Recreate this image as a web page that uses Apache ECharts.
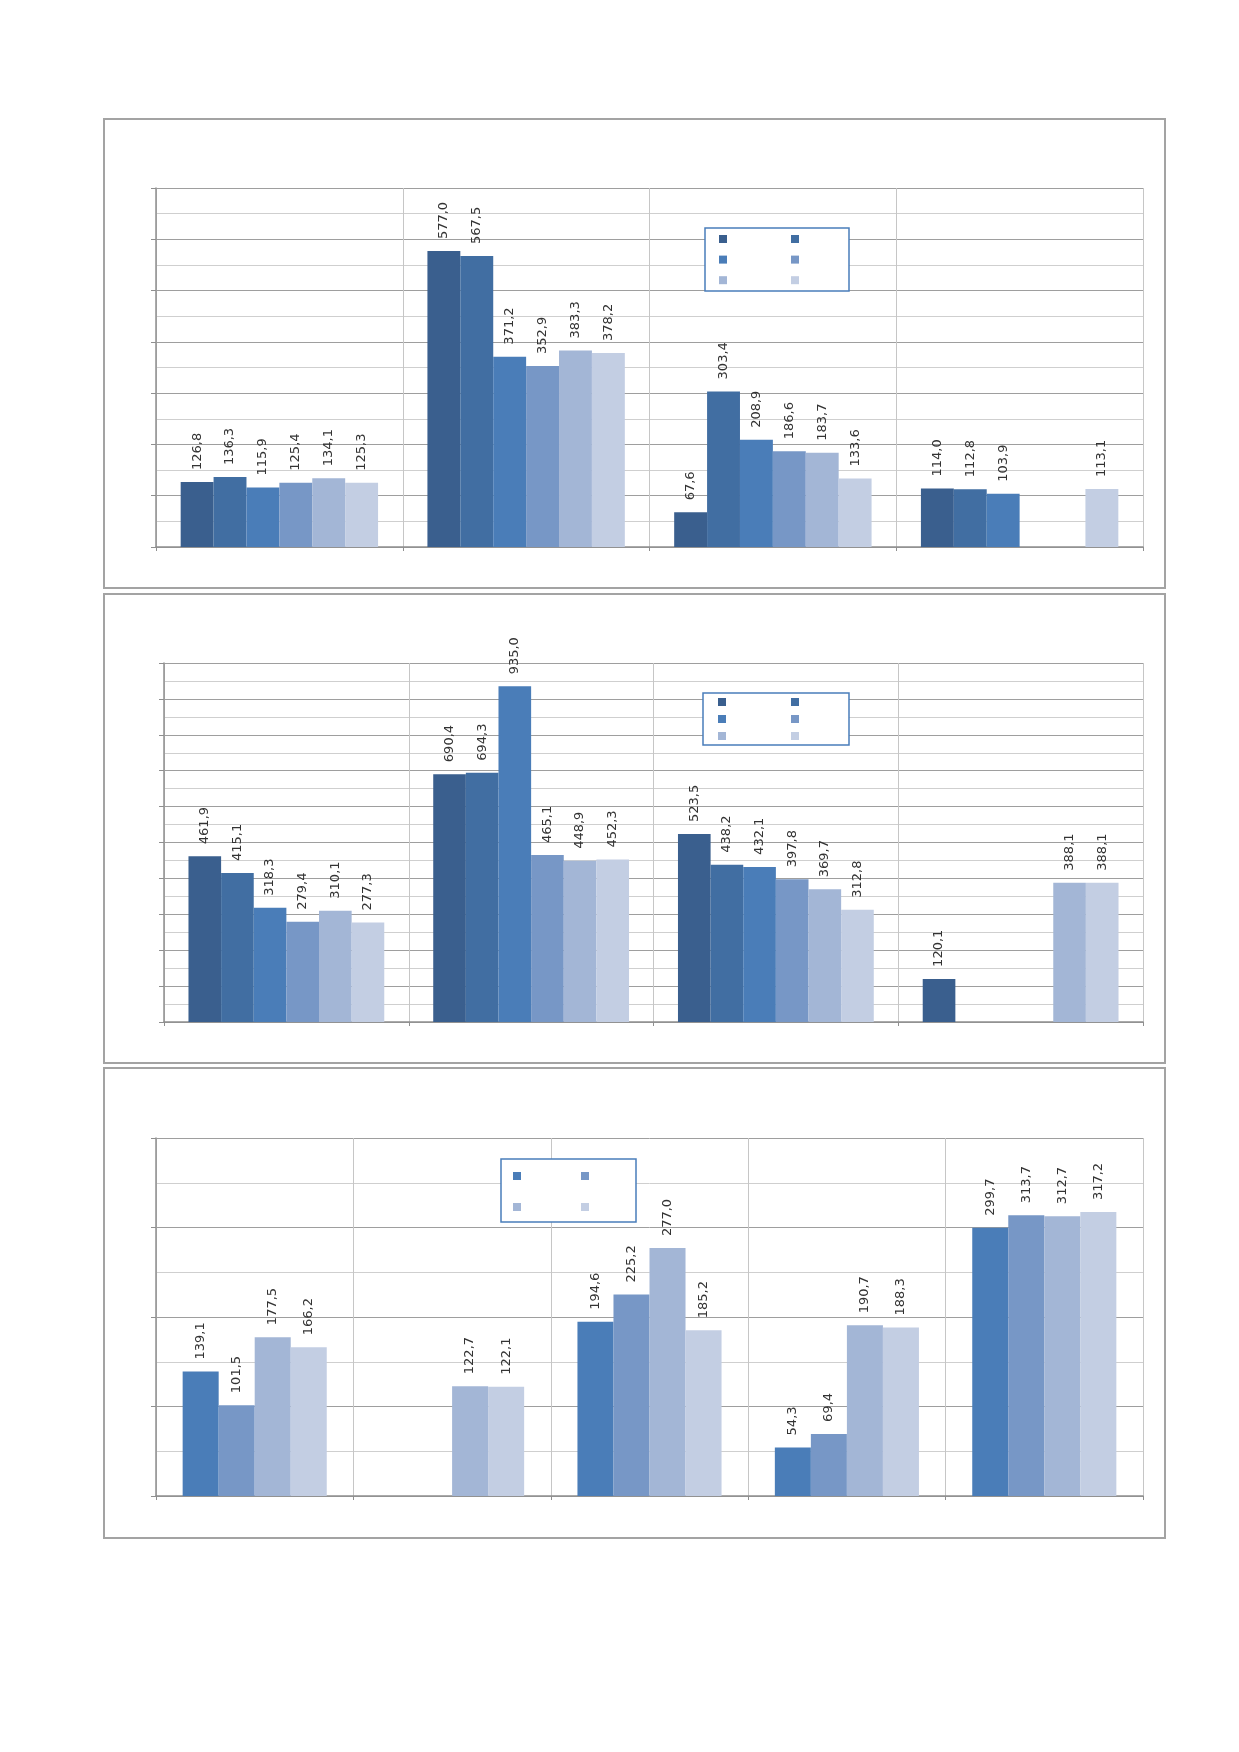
<!DOCTYPE html>
<html>
<head>
<meta charset="utf-8">
<script src="https://cdn.jsdelivr.net/npm/echarts@6/dist/echarts.min.js"></script>
<style>
html, body { margin:0; padding:0; background:#fff; }
body { width:1239px; height:1752px; position:relative; }
.panel { position:absolute; left:103px; width:1063px; box-sizing:border-box; border:2px solid #a3a3a3; background:#fff; }
</style>
</head>
<body>
<div id="p1" class="panel" style="top:118px;height:471px"></div>
<div id="p2" class="panel" style="top:593px;height:471px"></div>
<div id="p3" class="panel" style="top:1067px;height:472px"></div>
<script>
// chart 1
var cats1 = ['I', 'II', 'III', 'IV'];
var c1s1 = [126.8, 577.0, 67.6, 114.0];
var c1s2 = [136.3, 567.5, 303.4, 112.8];
var c1s3 = [115.9, 371.2, 208.9, 103.9];
var c1s4 = [125.4, 352.9, 186.6, null];
var c1s5 = [134.1, 383.3, 183.7, null];
var c1s6 = [125.3, 378.2, 133.6, 113.1];

// chart 2
var cats2 = ['I', 'II', 'III', 'IV'];
var c2s1 = [461.9, 690.4, 523.5, 120.1];
var c2s2 = [415.1, 694.3, 438.2, null];
var c2s3 = [318.3, 935.0, 432.1, null];
var c2s4 = [279.4, 465.1, 397.8, null];
var c2s5 = [310.1, 448.9, 369.7, 388.1];
var c2s6 = [277.3, 452.3, 312.8, 388.1];

// chart 3
var cats3 = ['I', 'II', 'III', 'IV', 'V'];
var c3s1 = [139.1, null, 194.6, 54.3, 299.7];
var c3s2 = [101.5, null, 225.2, 69.4, 313.7];
var c3s3 = [177.5, 122.7, 277.0, 190.7, 312.7];
var c3s4 = [166.2, 122.1, 185.2, 188.3, 317.2];

var names6 = ['Ряд 1', 'Ряд 2', 'Ряд 3', 'Ряд 4', 'Ряд 5', 'Ряд 6'];
var names4 = ['Ряд 3', 'Ряд 4', 'Ряд 5', 'Ряд 6'];
var colors = ['#3a5f8e', '#416ea2', '#4a7db8', '#7797c6', '#a3b6d6', '#c3cee3'];

function fmt(p) {
    return p.value == null ? '' : p.value.toFixed(1).replace('.', ',');
}

function makeSeries(names, data, cols, gap) {
    return data.map(function (d, i) {
        return {
            name: names[i],
            type: 'bar',
            data: d,
            barGap: '0%',
            barCategoryGap: gap,
            itemStyle: { color: cols[i] },
            label: {
                show: true,
                position: 'top',
                rotate: 90,
                align: 'left',
                verticalAlign: 'middle',
                distance: 12,
                formatter: fmt,
                fontFamily: 'DejaVu Sans',
                fontSize: 13,
                color: '#333'
            }
        };
    });
}

function makeOption(cats, series, yMax, grid, legends, box) {
    return {
        animation: false,
        grid: grid,
        xAxis: {
            type: 'category',
            data: cats,
            axisLine: { lineStyle: { color: '#8f8f8f', width: 1.5 } },
            axisTick: { show: true, interval: 0, length: 4, lineStyle: { color: '#8f8f8f' } },
            axisLabel: { show: false },
            splitLine: { show: true, interval: 0, lineStyle: { color: '#c6c6c6' } }
        },
        yAxis: {
            type: 'value',
            min: 0,
            max: yMax,
            interval: 100,
            axisLine: { show: true, lineStyle: { color: '#8f8f8f', width: 1.5 } },
            axisTick: { show: true, length: 5, lineStyle: { color: '#8f8f8f' } },
            axisLabel: { show: false },
            splitLine: { lineStyle: { color: '#9e9e9e' } },
            minorTick: { show: false, splitNumber: 2 },
            minorSplitLine: { show: true, lineStyle: { color: '#cfcfcf' } }
        },
        legend: legends.map(function (l) {
            return {
                orient: 'vertical',
                left: l.left,
                top: l.top,
                data: l.data,
                itemWidth: 8,
                itemHeight: 8,
                itemGap: l.gap,
                padding: 0,
                icon: 'rect',
                formatter: function () { return ''; },
                textStyle: { fontSize: 8, lineHeight: 8 }
            };
        }),
        graphic: [{
            type: 'rect',
            z: 3,
            shape: box,
            style: { fill: '#fff', stroke: '#4a7ebb', lineWidth: 1.5 }
        }],
        series: series
    };
}

var chart1 = echarts.init(document.getElementById('p1'));
chart1.setOption(makeOption(
    cats1,
    makeSeries(names6, [c1s1, c1s2, c1s3, c1s4, c1s5, c1s6], colors, '20%'),
    700,
    { left: 51, right: 21, top: 68, height: 359 },
    [
        { left: 614, top: 115, gap: 12.6, data: [names6[0], names6[2], names6[4]] },
        { left: 686, top: 115, gap: 12.6, data: [names6[1], names6[3], names6[5]] }
    ],
    { x: 600, y: 108, width: 144, height: 63 }
));

var chart2 = echarts.init(document.getElementById('p2'));
chart2.setOption(makeOption(
    cats2,
    makeSeries(names6, [c2s1, c2s2, c2s3, c2s4, c2s5, c2s6], colors, '20%'),
    1000,
    { left: 59, right: 21, top: 68, height: 359 },
    [
        { left: 613, top: 103, gap: 9, data: [names6[0], names6[2], names6[4]] },
        { left: 686, top: 103, gap: 9, data: [names6[1], names6[3], names6[5]] }
    ],
    { x: 598, y: 98, width: 146, height: 52 }
));

var chart3 = echarts.init(document.getElementById('p3'));
chart3.setOption(makeOption(
    cats3,
    makeSeries(names4, [c3s1, c3s2, c3s3, c3s4], colors.slice(2), '27%'),
    400,
    { left: 51, right: 21, top: 69, height: 358 },
    [
        { left: 408, top: 103, gap: 23, data: [names4[0], names4[2]] },
        { left: 476, top: 103, gap: 23, data: [names4[1], names4[3]] }
    ],
    { x: 396, y: 90, width: 135, height: 63 }
));
</script>
</body>
</html>
